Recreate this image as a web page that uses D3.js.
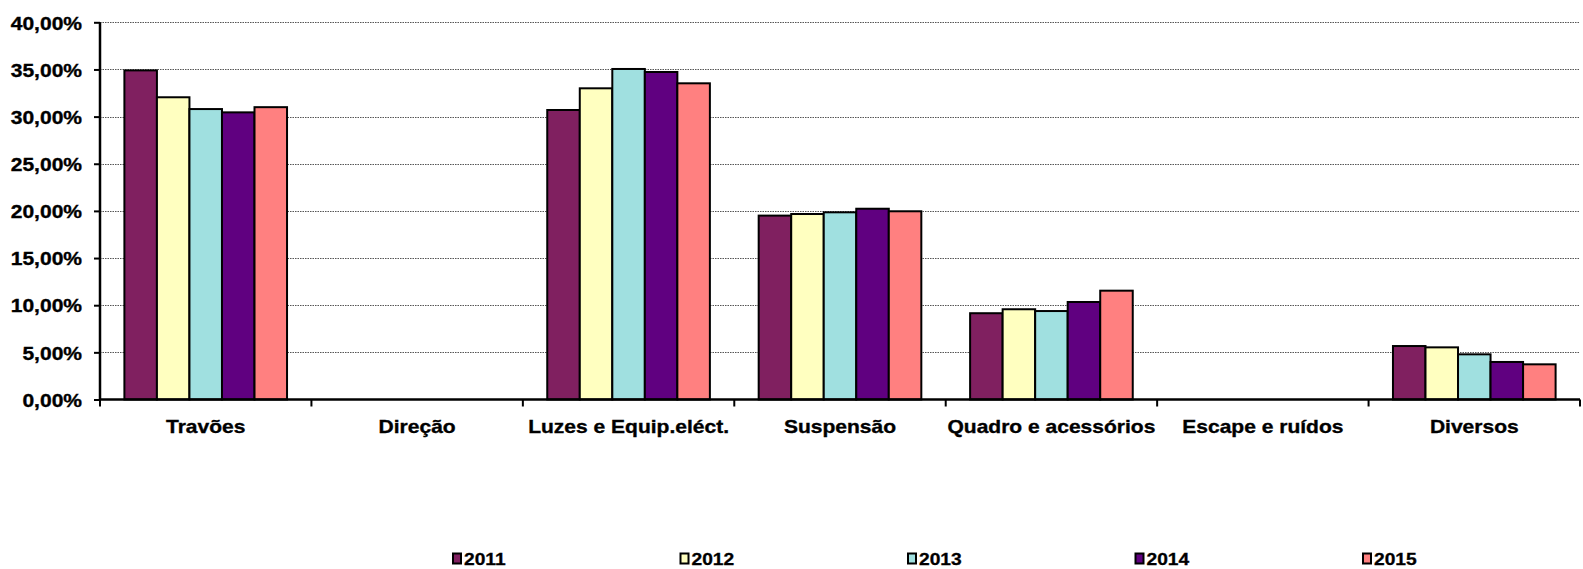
<!DOCTYPE html>
<html><head><meta charset="utf-8">
<script src="https://cdn.jsdelivr.net/npm/d3@7"></script>
<style>
html,body{margin:0;padding:0;background:#fff;}
svg{display:block;font-family:"Liberation Sans",Arial,sans-serif;font-weight:bold;}
</style></head>
<body><svg id="c" width="1583" height="569"></svg>
<script>
const categories = ["Travões","Direção","Luzes e Equip.eléct.","Suspensão","Quadro e acessórios","Escape e ruídos","Diversos"];
const years = ["2011","2012","2013","2014","2015"];
const colors = ["#802060","#FFFFC0","#A0E0E0","#600080","#FF8080"];
const v2011 = [34.9, 0, 30.7, 19.5, 9.15, 0, 5.67];
const v2012 = [32.05, 0, 33.0, 19.67, 9.57, 0, 5.53];
const v2013 = [30.8, 0, 35.05, 19.85, 9.38, 0, 4.79];
const v2014 = [30.45, 0, 34.73, 20.23, 10.34, 0, 3.98];
const v2015 = [31.0, 0, 33.53, 19.96, 11.54, 0, 3.73];
const series = [v2011, v2012, v2013, v2014, v2015];
const yTicks = [0,5,10,15,20,25,30,35,40];

const svg = d3.select("#c");
const X0 = 100, X1 = 1580, Y0 = 399.5, Y1 = 22.3;
const x = d3.scaleBand().domain(categories).range([X0, X1]).padding(0);
const xs = d3.scaleBand().domain(years).range([0, x.bandwidth()]).paddingInner(0).paddingOuter(0.75);
const y = d3.scaleLinear().domain([0, 40]).range([Y0, Y1]);
const fmt = v => v.toFixed(2).replace(".", ",") + "%";
const STRETCH = 1.13;
function stretch(sel){ sel.each(function(){ const l=this.getComputedTextLength(); this.setAttribute("textLength", l*STRETCH); this.setAttribute("lengthAdjust","spacingAndGlyphs"); }); }

// gridlines
svg.append("g").selectAll("line").data(yTicks.filter(t=>t>0)).join("line")
  .attr("x1", X0).attr("x2", X1).attr("y1", d=>Math.round(y(d))+0.5).attr("y2", d=>Math.round(y(d))+0.5)
  .attr("stroke", "#555").attr("stroke-width", 1).attr("stroke-dasharray", "1.5,1");

// bars
const g = svg.append("g");
series.forEach((vals, si) => {
  g.append("g").selectAll("rect").data(vals.map((v,i)=>({c:categories[i], v})).filter(d=>d.v>0)).join("rect")
    .attr("x", d => x(d.c) + xs(years[si]))
    .attr("width", xs.bandwidth())
    .attr("y", d => y(d.v))
    .attr("height", d => Y0 - y(d.v))
    .attr("fill", colors[si]).attr("stroke", "#000").attr("stroke-width", 2);
});

// y axis
const yAxis = svg.append("g").attr("transform", `translate(${X0},0)`)
  .call(d3.axisLeft(y).tickValues(yTicks).tickFormat(fmt).tickSize(6).tickPadding(12));
yAxis.select(".domain").attr("stroke", "#000").attr("stroke-width", 2.5).attr("d", `M0,${Y1}V${Y0}`);
yAxis.selectAll(".tick line").attr("stroke", "#000").attr("stroke-width", 2);
yAxis.selectAll("text").attr("font-size", 18.6).attr("font-weight", "bold").attr("font-family", "Liberation Sans, Arial, sans-serif")
  .attr("fill","#000").attr("stroke","#000").attr("stroke-width",0.35).attr("dy","0.36em").call(stretch);

// x axis
const xAxis = svg.append("g").attr("transform", `translate(0,${Y0})`);
xAxis.append("line").attr("x1", X0).attr("x2", X1).attr("y1", 0).attr("y2", 0).attr("stroke", "#000").attr("stroke-width", 2.5);
const bounds = categories.map(c => x(c)).concat([X1]);
xAxis.selectAll(".tk").data(bounds).join("line").attr("class","tk")
  .attr("x1", d=>d).attr("x2", d=>d).attr("y1", 0).attr("y2", 7).attr("stroke", "#000").attr("stroke-width", 2);
xAxis.selectAll(".lbl").data(categories).join("text").attr("class","lbl")
  .attr("x", d => x(d) + x.bandwidth()/2).attr("y", 33.5)
  .attr("text-anchor", "middle").attr("font-size", 18.6).attr("fill","#000")
  .attr("stroke","#000").attr("stroke-width",0.35).text(d=>d).call(stretch);

// legend
const legX = d3.scalePoint().domain(years).range([453, 1363]);
const leg = svg.append("g").selectAll("g").data(years).join("g").attr("transform", d=>`translate(${legX(d)},0)`);
leg.append("rect").attr("x", 0).attr("y", 553.5).attr("width", 8).attr("height", 10)
  .attr("fill", (d,i)=>colors[i]).attr("stroke", "#000").attr("stroke-width", 2);
leg.append("text").attr("x", 11).attr("y", 565).attr("font-size", 17).attr("fill","#000")
  .attr("stroke","#000").attr("stroke-width",0.3).text(d=>d).call(stretch);
</script></body></html>
